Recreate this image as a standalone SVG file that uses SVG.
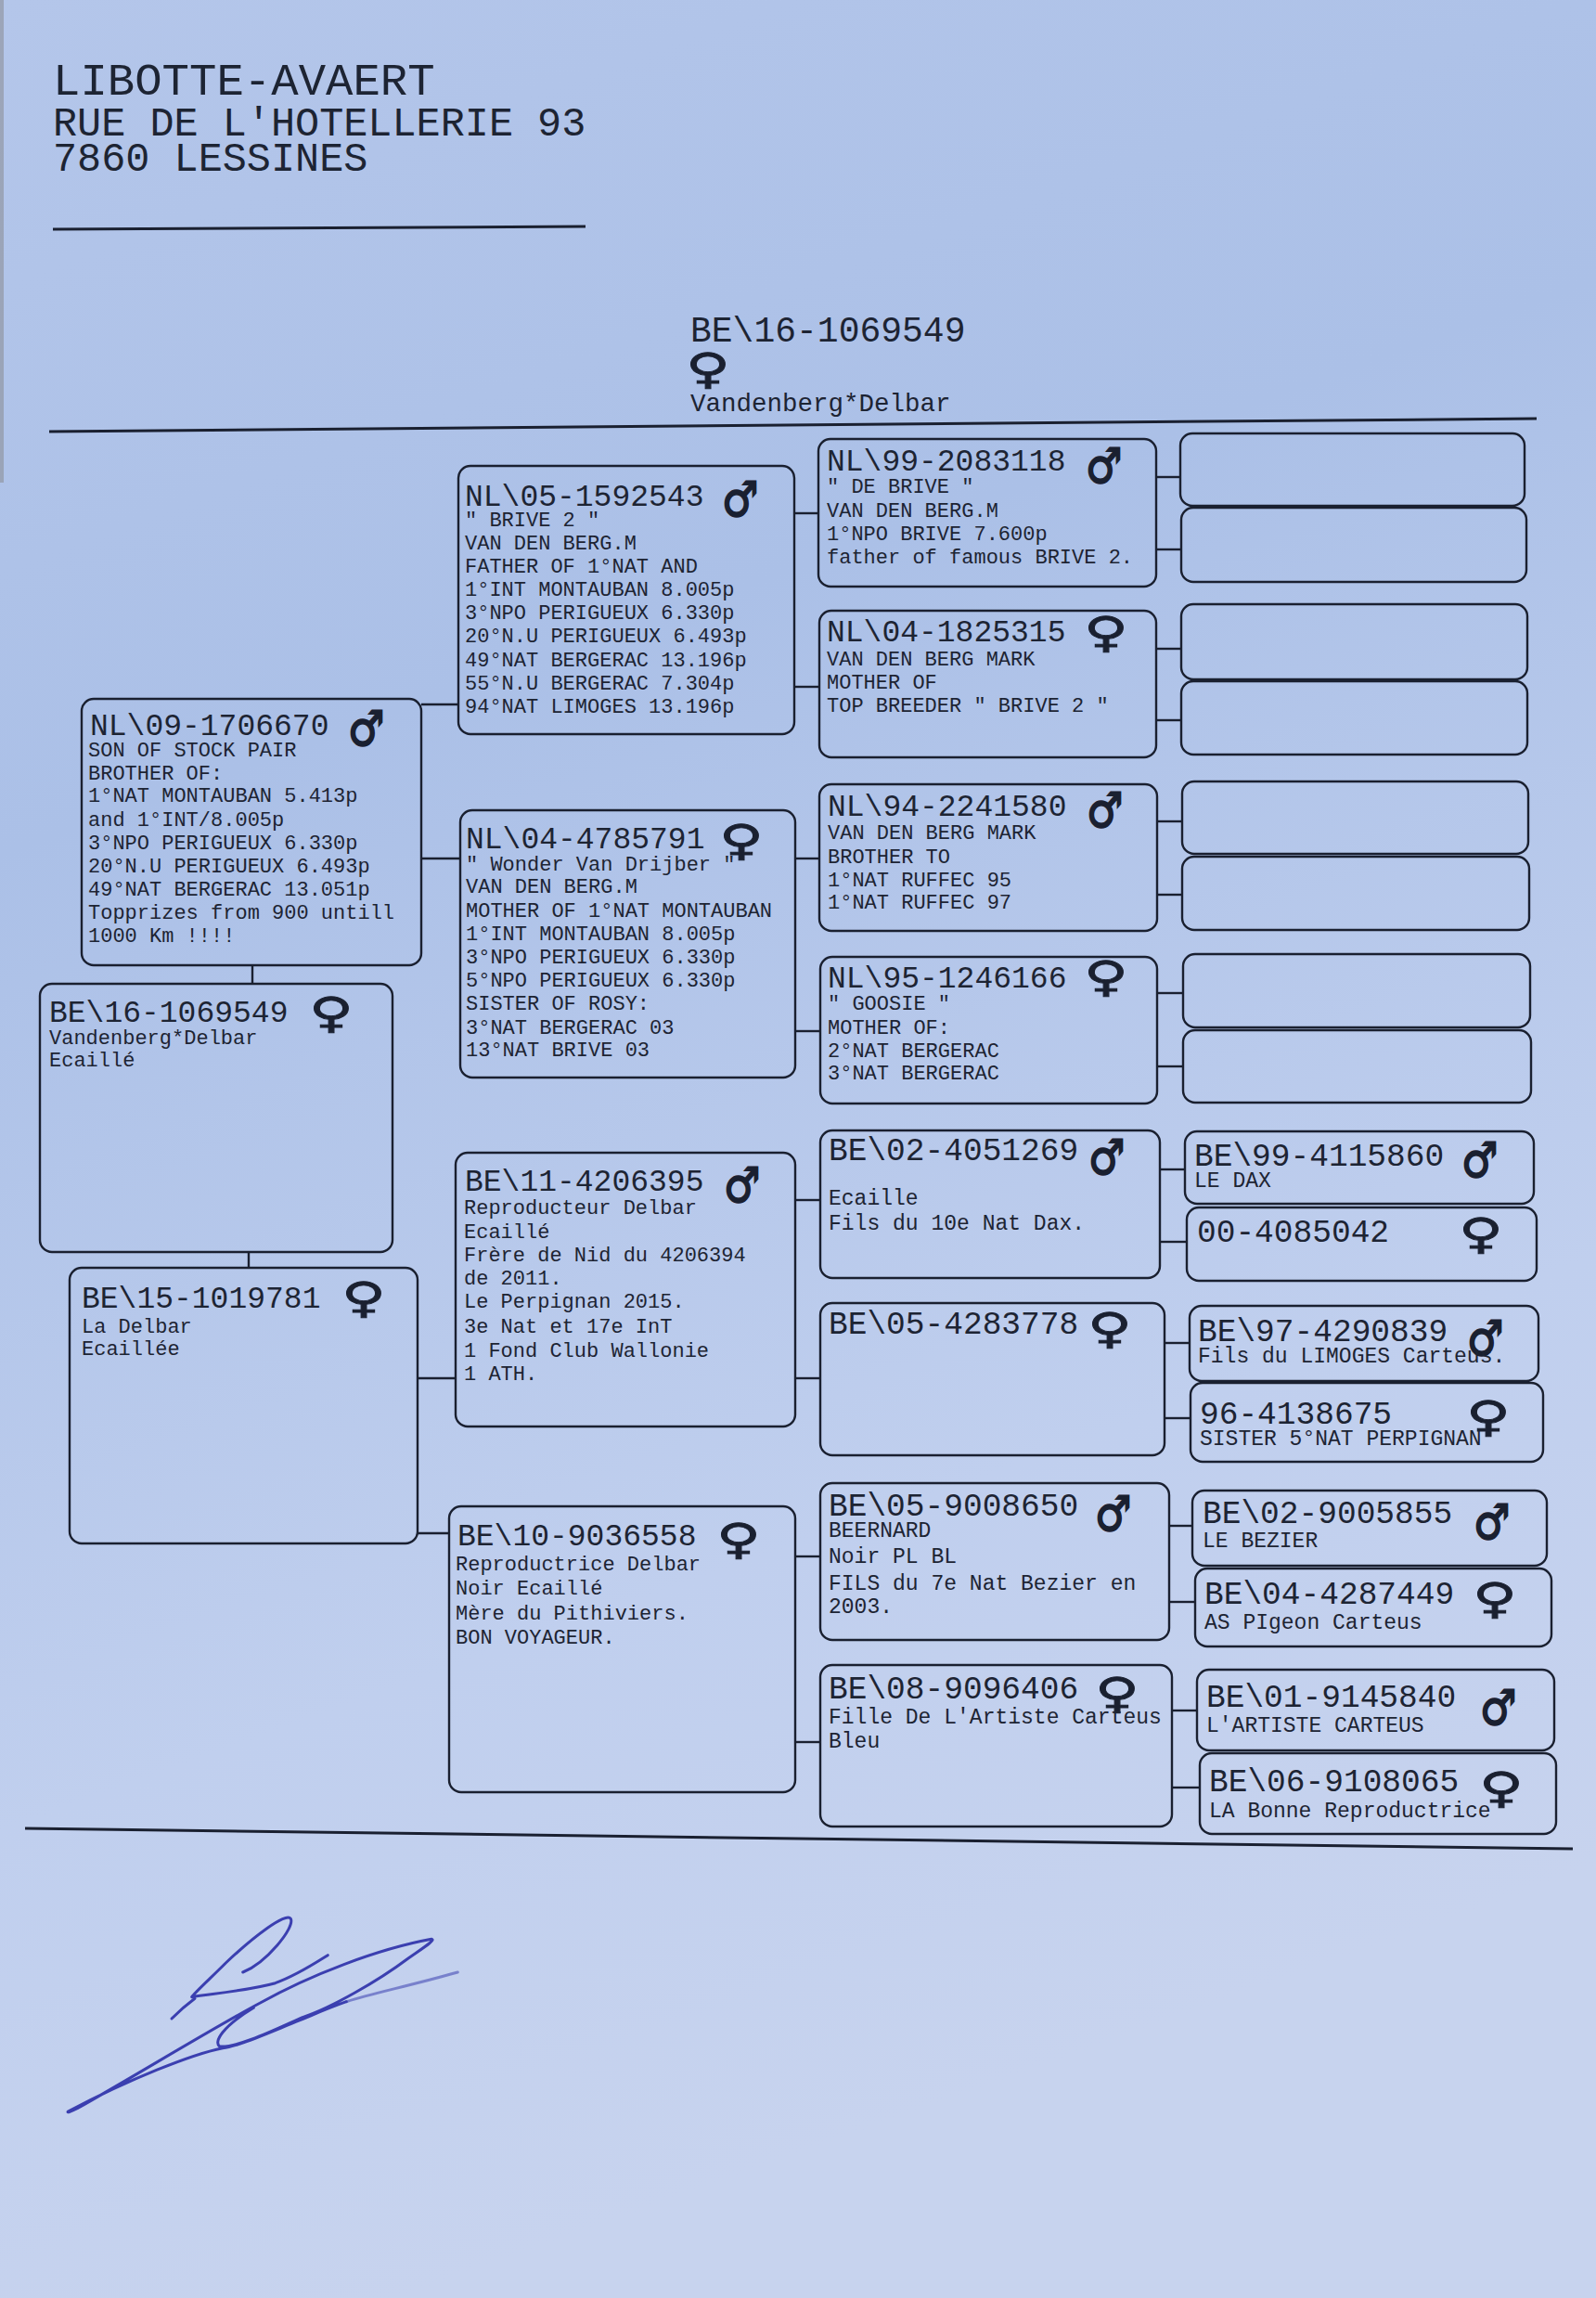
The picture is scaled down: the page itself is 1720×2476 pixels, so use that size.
<svg xmlns="http://www.w3.org/2000/svg" width="1720" height="2476" viewBox="0 0 1720 2476">
<defs>
<linearGradient id="paper" x1="0" y1="0" x2="0.25" y2="1">
<stop offset="0" stop-color="#b4c6ea"/>
<stop offset="0.35" stop-color="#abc0e7"/>
<stop offset="0.75" stop-color="#c0cfee"/>
<stop offset="1" stop-color="#c7d3ee"/>
</linearGradient>
<style>
.t{font-family:"Liberation Mono","Courier New",monospace;fill:#1d2433}
.h1{font-size:49px}
.h2{font-size:43.5px}
.id{font-size:33px}
.id2{font-size:34.5px}
.d{font-size:22px}
.d2{font-size:23px}
.box{fill:none;stroke:#1a2030;stroke-width:2.4}
.con line{stroke:#1a2030;stroke-width:2.4}
.rule{stroke:#1a2030;stroke-width:3;fill:none}
.m{font-family:"DejaVu Sans",sans-serif;font-weight:bold;font-size:44px;fill:#1a2030;stroke:#1a2030;stroke-width:1.6}
.f{font-family:"DejaVu Sans",sans-serif;font-weight:bold;font-size:44px;fill:#1a2030;stroke:#1a2030;stroke-width:0.8}
.sig{fill:none;stroke:#3b3fb0;stroke-width:3;stroke-linecap:round;stroke-linejoin:round}
</style>
</defs>
<rect width="1720" height="2476" fill="url(#paper)"/>
<rect x="0" y="0" width="4" height="520" fill="#8c9098" opacity="0.6"/>

<g id="header">
<text class="t h1" x="57" y="102">LIBOTTE-AVAERT</text>
<text class="t h2" x="57" y="146">RUE DE L'HOTELLERIE 93</text>
<text class="t h2" x="57" y="184">7860 LESSINES</text>
<line class="rule" x1="57" y1="247" x2="631" y2="244"/>
</g>

<g id="title">
<text class="t" style="font-size:38px" x="744" y="368">BE\16-1069549</text>
<text class="f" transform="translate(739,413) scale(1.48,1.04)">♀</text>
<text class="t" style="font-size:27.5px" x="744" y="443">Vandenberg*Delbar</text>
<line class="rule" x1="53" y1="465" x2="1656" y2="451"/>
</g>

<g class="con" id="connectors">
<line x1="272" y1="1040" x2="272" y2="1060"/>
<line x1="268" y1="1349" x2="268" y2="1366"/>
<line x1="454" y1="759" x2="494" y2="759"/>
<line x1="454" y1="925" x2="496" y2="925"/>
<line x1="450" y1="1485" x2="491" y2="1485"/>
<line x1="450" y1="1652" x2="484" y2="1652"/>
<line x1="856" y1="553" x2="882" y2="553"/>
<line x1="856" y1="740" x2="883" y2="740"/>
<line x1="857" y1="925" x2="883" y2="925"/>
<line x1="857" y1="1111" x2="884" y2="1111"/>
<line x1="857" y1="1293" x2="884" y2="1293"/>
<line x1="857" y1="1485" x2="884" y2="1485"/>
<line x1="857" y1="1677" x2="884" y2="1677"/>
<line x1="857" y1="1877" x2="884" y2="1877"/>
<line x1="1246" y1="514" x2="1272" y2="514"/>
<line x1="1246" y1="592" x2="1273" y2="592"/>
<line x1="1246" y1="699" x2="1273" y2="699"/>
<line x1="1246" y1="776" x2="1273" y2="776"/>
<line x1="1247" y1="885" x2="1273" y2="885"/>
<line x1="1247" y1="964" x2="1274" y2="964"/>
<line x1="1247" y1="1070" x2="1275" y2="1070"/>
<line x1="1247" y1="1149" x2="1275" y2="1149"/>
<line x1="1250" y1="1260" x2="1277" y2="1260"/>
<line x1="1250" y1="1338" x2="1279" y2="1338"/>
<line x1="1255" y1="1447" x2="1282" y2="1447"/>
<line x1="1255" y1="1528" x2="1283" y2="1528"/>
<line x1="1260" y1="1644" x2="1285" y2="1644"/>
<line x1="1260" y1="1726" x2="1288" y2="1726"/>
<line x1="1263" y1="1843" x2="1290" y2="1843"/>
<line x1="1263" y1="1926" x2="1293" y2="1926"/>
</g>

<g id="n-sire">
<rect class="box" x="88" y="753" width="366" height="287" rx="13"/>
<text class="t id" x="97" y="792">NL\09-1706670</text>
<text class="m" transform="translate(375,803) scale(1,1.18)">♂</text>
<text class="t d" x="95" y="815">SON OF STOCK PAIR</text>
<text class="t d" x="95" y="840">BROTHER OF:</text>
<text class="t d" x="95" y="864">1°NAT MONTAUBAN 5.413p</text>
<text class="t d" x="95" y="890">and 1°INT/8.005p</text>
<text class="t d" x="95" y="915">3°NPO PERIGUEUX 6.330p</text>
<text class="t d" x="95" y="940">20°N.U PERIGUEUX 6.493p</text>
<text class="t d" x="95" y="965">49°NAT BERGERAC 13.051p</text>
<text class="t d" x="95" y="990">Topprizes from 900 untill</text>
<text class="t d" x="95" y="1015">1000 Km !!!!</text>
</g>

<g id="n-subject">
<rect class="box" x="43" y="1060" width="380" height="289" rx="13"/>
<text class="t id" x="53" y="1101">BE\16-1069549</text>
<text class="f" transform="translate(333,1107) scale(1.48,1.04)">♀</text>
<text class="t d" x="53" y="1125">Vandenberg*Delbar</text>
<text class="t d" x="53" y="1149">Ecaillé</text>
</g>

<g id="n-dam">
<rect class="box" x="75" y="1366" width="375" height="297" rx="13"/>
<text class="t id" x="88" y="1409">BE\15-1019781</text>
<text class="f" transform="translate(368,1414) scale(1.48,1.04)">♀</text>
<text class="t d" x="88" y="1436">La Delbar</text>
<text class="t d" x="88" y="1460">Ecaillée</text>
</g>

<g id="n-NL05-1592543">
<rect class="box" x="494" y="502" width="362" height="289" rx="13"/>
<text class="t id" x="501" y="545">NL\05-1592543</text>
<text class="m" transform="translate(778,556) scale(1,1.18)">♂</text>
<text class="t d" x="501" y="567">" BRIVE 2 "</text>
<text class="t d" x="501" y="592">VAN DEN BERG.M</text>
<text class="t d" x="501" y="617">FATHER OF 1°NAT AND</text>
<text class="t d" x="501" y="642">1°INT MONTAUBAN 8.005p</text>
<text class="t d" x="501" y="667">3°NPO PERIGUEUX 6.330p</text>
<text class="t d" x="501" y="692">20°N.U PERIGUEUX 6.493p</text>
<text class="t d" x="501" y="718">49°NAT BERGERAC 13.196p</text>
<text class="t d" x="501" y="743">55°N.U BERGERAC 7.304p</text>
<text class="t d" x="501" y="768">94°NAT LIMOGES 13.196p</text>
</g>

<g id="n-NL04-4785791">
<rect class="box" x="496" y="873" width="361" height="288" rx="13"/>
<text class="t id" x="502" y="914">NL\04-4785791</text>
<text class="f" transform="translate(775,921) scale(1.48,1.04)">♀</text>
<text class="t d" x="502" y="938">" Wonder Van Drijber "</text>
<text class="t d" x="502" y="962">VAN DEN BERG.M</text>
<text class="t d" x="502" y="988">MOTHER OF 1°NAT MONTAUBAN</text>
<text class="t d" x="502" y="1013">1°INT MONTAUBAN 8.005p</text>
<text class="t d" x="502" y="1038">3°NPO PERIGUEUX 6.330p</text>
<text class="t d" x="502" y="1063">5°NPO PERIGUEUX 6.330p</text>
<text class="t d" x="502" y="1088">SISTER OF ROSY:</text>
<text class="t d" x="502" y="1114">3°NAT BERGERAC 03</text>
<text class="t d" x="502" y="1138">13°NAT BRIVE 03</text>
</g>

<g id="n-BE11-4206395">
<rect class="box" x="491" y="1242" width="366" height="295" rx="13"/>
<text class="t id" x="501" y="1283">BE\11-4206395</text>
<text class="m" transform="translate(780,1295) scale(1,1.18)">♂</text>
<text class="t d" x="500" y="1308">Reproducteur Delbar</text>
<text class="t d" x="500" y="1334">Ecaillé</text>
<text class="t d" x="500" y="1359">Frère de Nid du 4206394</text>
<text class="t d" x="500" y="1384">de 2011.</text>
<text class="t d" x="500" y="1409">Le Perpignan 2015.</text>
<text class="t d" x="500" y="1436">3e Nat et 17e InT</text>
<text class="t d" x="500" y="1462">1 Fond Club Wallonie</text>
<text class="t d" x="500" y="1487">1 ATH.</text>
</g>

<g id="n-BE10-9036558">
<rect class="box" x="484" y="1623" width="373" height="308" rx="13"/>
<text class="t id" x="493" y="1665">BE\10-9036558</text>
<text class="f" transform="translate(772,1674) scale(1.48,1.04)">♀</text>
<text class="t d" x="491" y="1692">Reproductrice Delbar</text>
<text class="t d" x="491" y="1718">Noir Ecaillé</text>
<text class="t d" x="491" y="1745">Mère du Pithiviers.</text>
<text class="t d" x="491" y="1771">BON VOYAGEUR.</text>
</g>

<g id="n-NL99-2083118">
<rect class="box" x="882" y="473" width="364" height="159" rx="13"/>
<text class="t id" x="891" y="507">NL\99-2083118</text>
<text class="m" transform="translate(1170,520) scale(1,1.18)">♂</text>
<text class="t d" x="891" y="531">" DE BRIVE "</text>
<text class="t d" x="891" y="557">VAN DEN BERG.M</text>
<text class="t d" x="891" y="582">1°NPO BRIVE 7.600p</text>
<text class="t d" x="891" y="607">father of famous BRIVE 2.</text>
</g>

<g id="n-NL04-1825315">
<rect class="box" x="883" y="658" width="363" height="158" rx="13"/>
<text class="t id" x="891" y="691">NL\04-1825315</text>
<text class="f" transform="translate(1168,697) scale(1.48,1.04)">♀</text>
<text class="t d" x="891" y="717">VAN DEN BERG MARK</text>
<text class="t d" x="891" y="742">MOTHER OF</text>
<text class="t d" x="891" y="767">TOP BREEDER " BRIVE 2 "</text>
</g>

<g id="n-NL94-2241580">
<rect class="box" x="883" y="845" width="364" height="158" rx="13"/>
<text class="t id" x="892" y="879">NL\94-2241580</text>
<text class="m" transform="translate(1171,891) scale(1,1.18)">♂</text>
<text class="t d" x="892" y="904">VAN DEN BERG MARK</text>
<text class="t d" x="892" y="930">BROTHER TO</text>
<text class="t d" x="892" y="955">1°NAT RUFFEC 95</text>
<text class="t d" x="892" y="979">1°NAT RUFFEC 97</text>
</g>

<g id="n-NL95-1246166">
<rect class="box" x="884" y="1031" width="363" height="158" rx="13"/>
<text class="t id" x="892" y="1064">NL\95-1246166</text>
<text class="f" transform="translate(1168,1068) scale(1.48,1.04)">♀</text>
<text class="t d" x="892" y="1088">" GOOSIE "</text>
<text class="t d" x="892" y="1114">MOTHER OF:</text>
<text class="t d" x="892" y="1139">2°NAT BERGERAC</text>
<text class="t d" x="892" y="1163">3°NAT BERGERAC</text>
</g>

<g id="n-BE02-4051269">
<rect class="box" x="884" y="1218" width="366" height="159" rx="13"/>
<text class="t id2" x="893" y="1250">BE\02-4051269</text>
<text class="m" transform="translate(1173,1265) scale(1,1.18)">♂</text>
<text class="t d2" x="893" y="1298">Ecaille</text>
<text class="t d2" x="893" y="1325">Fils du 10e Nat Dax.</text>
</g>

<g id="n-BE05-4283778">
<rect class="box" x="884" y="1404" width="371" height="164" rx="13"/>
<text class="t id2" x="893" y="1437">BE\05-4283778</text>
<text class="f" transform="translate(1172,1447) scale(1.48,1.04)">♀</text>
</g>

<g id="n-BE05-9008650">
<rect class="box" x="884" y="1598" width="376" height="169" rx="13"/>
<text class="t id2" x="893" y="1633">BE\05-9008650</text>
<text class="m" transform="translate(1180,1649) scale(1,1.18)">♂</text>
<text class="t d2" x="893" y="1656">BEERNARD</text>
<text class="t d2" x="893" y="1684">Noir PL BL</text>
<text class="t d2" x="893" y="1713">FILS du 7e Nat Bezier en</text>
<text class="t d2" x="893" y="1738">2003.</text>
</g>

<g id="n-BE08-9096406">
<rect class="box" x="884" y="1794" width="379" height="174" rx="13"/>
<text class="t id2" x="893" y="1830">BE\08-9096406</text>
<text class="f" transform="translate(1180,1840) scale(1.48,1.04)">♀</text>
<text class="t d2" x="893" y="1857">Fille De L'Artiste Carteus</text>
<text class="t d2" x="893" y="1883">Bleu</text>
</g>

<g id="n-empty-1"><rect class="box" x="1272" y="467" width="371" height="78" rx="13"/></g>
<g id="n-empty-2"><rect class="box" x="1273" y="547" width="372" height="80" rx="13"/></g>
<g id="n-empty-3"><rect class="box" x="1273" y="651" width="373" height="81" rx="13"/></g>
<g id="n-empty-4"><rect class="box" x="1273" y="734" width="373" height="79" rx="13"/></g>
<g id="n-empty-5"><rect class="box" x="1274" y="842" width="373" height="78" rx="13"/></g>
<g id="n-empty-6"><rect class="box" x="1274" y="923" width="374" height="79" rx="13"/></g>
<g id="n-empty-7"><rect class="box" x="1275" y="1028" width="374" height="79" rx="13"/></g>
<g id="n-empty-8"><rect class="box" x="1275" y="1110" width="375" height="78" rx="13"/></g>

<g id="n-BE99-4115860">
<rect class="box" x="1277" y="1219" width="376" height="78" rx="13"/>
<text class="t id2" x="1287" y="1256">BE\99-4115860</text>
<text class="m" transform="translate(1575,1268) scale(1,1.18)">♂</text>
<text class="t d2" x="1287" y="1279">LE DAX</text>
</g>

<g id="n-00-4085042">
<rect class="box" x="1279" y="1301" width="377" height="79" rx="13"/>
<text class="t id2" x="1290" y="1338">00-4085042</text>
<text class="f" transform="translate(1572,1345) scale(1.48,1.04)">♀</text>
</g>

<g id="n-BE97-4290839">
<rect class="box" x="1282" y="1407" width="376" height="81" rx="13"/>
<text class="t id2" x="1291" y="1445">BE\97-4290839</text>
<text class="m" transform="translate(1581,1460) scale(1,1.18)">♂</text>
<text class="t d2" x="1291" y="1468">Fils du LIMOGES Carteus.</text>
</g>

<g id="n-96-4138675">
<rect class="box" x="1283" y="1490" width="380" height="85" rx="13"/>
<text class="t id2" x="1293" y="1534">96-4138675</text>
<text class="f" transform="translate(1580,1542) scale(1.48,1.04)">♀</text>
<text class="t d2" x="1293" y="1557">SISTER 5°NAT PERPIGNAN</text>
</g>

<g id="n-BE02-9005855">
<rect class="box" x="1285" y="1606" width="382" height="81" rx="13"/>
<text class="t id2" x="1296" y="1641">BE\02-9005855</text>
<text class="m" transform="translate(1588,1658) scale(1,1.18)">♂</text>
<text class="t d2" x="1296" y="1667">LE BEZIER</text>
</g>

<g id="n-BE04-4287449">
<rect class="box" x="1288" y="1690" width="384" height="84" rx="13"/>
<text class="t id2" x="1298" y="1728">BE\04-4287449</text>
<text class="f" transform="translate(1587,1738) scale(1.48,1.04)">♀</text>
<text class="t d2" x="1298" y="1755">AS PIgeon Carteus</text>
</g>

<g id="n-BE01-9145840">
<rect class="box" x="1290" y="1799" width="385" height="87" rx="13"/>
<text class="t id2" x="1300" y="1839">BE\01-9145840</text>
<text class="m" transform="translate(1595,1858) scale(1,1.18)">♂</text>
<text class="t d2" x="1300" y="1866">L'ARTISTE CARTEUS</text>
</g>

<g id="n-BE06-9108065">
<rect class="box" x="1293" y="1889" width="384" height="87" rx="13"/>
<text class="t id2" x="1303" y="1930">BE\06-9108065</text>
<text class="f" transform="translate(1594,1942) scale(1.48,1.04)">♀</text>
<text class="t d2" x="1303" y="1958">LA Bonne Reproductrice</text>
</g>

<g id="footer">
<line class="rule" x1="27" y1="1970" x2="1695" y2="1992"/>
</g>

<g id="signature">
<path class="sig" d="M261.7,2125 C286.7,2115 318.3,2076.7 313.3,2067.3 C308.3,2060 273.3,2086.7 243.3,2115 C226.7,2131.7 210,2146.7 206.7,2151.7 C226.7,2148.3 266.7,2145 296.7,2136.7 C320,2128.3 340,2115 353.3,2106.7"/>
<path class="sig" d="M185,2175 C193.3,2166.7 203.3,2158.3 210,2153.3"/>
<path class="sig" d="M373.3,2156.7 C350,2165 335,2172 323.3,2176.7 C290,2190 256.7,2205 240,2206.7 C206.7,2213.3 140,2240 73.3,2275 C71.7,2276.7 76.7,2275 83.3,2271.7 C140,2240 226.7,2186.7 280,2158.3 C333.3,2128.3 406.7,2100 465,2089.3 C470,2090 456.7,2098.3 440,2110 C406.7,2135 356.7,2163.3 326.7,2173.3 C300,2185 256.7,2206.7 236.7,2205 C230,2200 240,2183.3 273.3,2163.3"/>
<path class="sig" d="M373.3,2156.7 C400,2148 440,2140 493.3,2125" stroke-width="2" opacity="0.55"/>
</g>
</svg>
